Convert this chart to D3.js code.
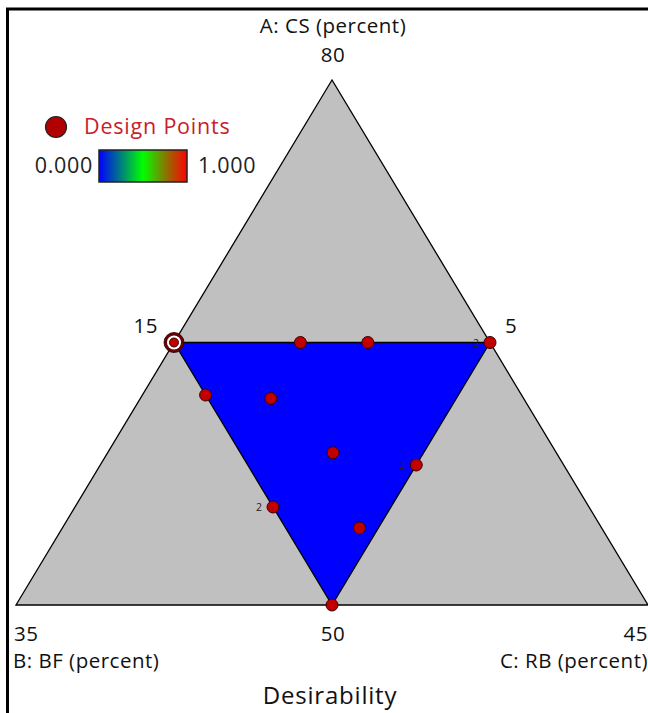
<!DOCTYPE html>
<html>
<head>
<meta charset="utf-8">
<script src="https://cdn.jsdelivr.net/npm/d3@7"></script>
<style>
  body { margin: 0; background: #fff; }
  text { font-family: "Open Sans", "Noto Sans", sans-serif; }
</style>
</head>
<body>
<svg id="chart" width="648" height="713"></svg>
<script>
// component ranges (actual percent)
const compA = { name: "A: CS (percent)", min: 50, max: 80 };
const compB = { name: "B: BF (percent)", min: 5, max: 35 };
const compC = { name: "C: RB (percent)", min: 15, max: 45 };

// constrained design region (A, B, C)
const regionA = [65, 65, 50];
const regionB = [20, 5, 20];
const regionC = [15, 30, 30];

// design points (A, B, C) and replicate count
const pointA = [65, 65, 65, 65, 62, 61.8, 58.7, 58, 55.6, 54.4, 50];
const pointB = [20, 14, 10.8, 5, 20, 17, 15.6, 12, 20, 16.5, 20];
const pointC = [15, 21, 24.2, 30, 18, 21.2, 25.7, 30, 24.4, 29.1, 30];
const pointReps = [1, 1, 1, 2, 1, 1, 1, 2, 2, 1, 1];
const selectedIndex = 0;

// edge labels
const edgeLabels = ["80", "15", "5", "35", "50", "45"];

const svg = d3.select("#chart");

// vertex pixel positions
const vA = [332, 80], vB = [16, 605], vC = [648, 605];

const sa = d3.scaleLinear().domain([compA.min, compA.max]).range([0, 1]);
const sb = d3.scaleLinear().domain([compB.min, compB.max]).range([0, 1]);
const sc = d3.scaleLinear().domain([compC.min, compC.max]).range([0, 1]);

function project(A, B, C) {
    var a = sa(A), b = sb(B), c = sc(C);
    var s = a + b + c;
    a /= s; b /= s; c /= s;
    return [a * vA[0] + b * vB[0] + c * vC[0], a * vA[1] + b * vB[1] + c * vC[1]];
}

// frame
svg.append("rect")
    .attr("x", 7.5).attr("y", 9)
    .attr("width", 680).attr("height", 720)
    .attr("fill", "none")
    .attr("stroke", "#000")
    .attr("stroke-width", 3);

// outer simplex
const outer = [
    project(compA.max, compB.min, compC.min),
    project(compA.min, compB.max, compC.min),
    project(compA.min, compB.min, compC.max)
];
svg.append("path")
    .attr("d", d3.line()(outer) + "Z")
    .attr("fill", "#c0c0c0")
    .attr("stroke", "#000")
    .attr("stroke-width", 1.3);

// region
const region = regionA.map((d, i) => project(d, regionB[i], regionC[i]));
svg.append("path")
    .attr("d", d3.line()(region) + "Z")
    .attr("fill", "#0000ff")
    .attr("stroke", "#000")
    .attr("stroke-width", 1.3);

// design points
const pts = pointA.map((d, i) => ({ p: project(d, pointB[i], pointC[i]), reps: pointReps[i], i: i }));

const sel = pts[selectedIndex].p;
svg.append("circle").attr("cx", sel[0]).attr("cy", sel[1]).attr("r", 10)
    .attr("fill", "#6a0000").attr("stroke", "#200000").attr("stroke-width", 0.8);
svg.append("circle").attr("cx", sel[0]).attr("cy", sel[1]).attr("r", 7)
    .attr("fill", "#ffffff");

svg.append("g")
    .selectAll("circle")
    .data(pts)
    .enter()
    .append("circle")
    .attr("cx", d => d.p[0])
    .attr("cy", d => d.p[1])
    .attr("r", d => d.i === selectedIndex ? 4.5 : 6)
    .attr("fill", "#c00000")
    .attr("stroke", "#3a0000")
    .attr("stroke-width", 1);

svg.append("g")
    .selectAll("text")
    .data(pts.filter(d => d.reps > 1))
    .enter()
    .append("text")
    .attr("x", d => d.p[0] - 11)
    .attr("y", d => d.p[1] + 4)
    .attr("text-anchor", "end")
    .attr("font-size", 10.5)
    .attr("fill", "#222")
    .text(d => d.reps);

// labels
function label(x, y, t, size, anchor, color, ls) {
    svg.append("text")
        .attr("x", x).attr("y", y)
        .attr("text-anchor", anchor || "middle")
        .attr("font-size", size)
        .attr("letter-spacing", ls || 0.5)
        .attr("fill", color || "#111")
        .text(t);
}
label(333, 33, compA.name, 20.5);
label(333, 62, edgeLabels[0], 20.5);
label(158, 333, edgeLabels[1], 20.5, "end");
label(505, 333, edgeLabels[2], 20.5, "start");
label(14, 641, edgeLabels[3], 20.5, "start");
label(333, 641, edgeLabels[4], 20.5);
label(648, 641, edgeLabels[5], 20.5, "end");
label(13, 668, compB.name, 20.5, "start");
label(648, 668, compC.name, 20.5, "end");
label(330, 704, "Desirability", 24, "middle", "#111", 0.8);

// legend
svg.append("circle").attr("cx", 56).attr("cy", 127).attr("r", 10.5)
    .attr("fill", "#b00000").attr("stroke", "#222").attr("stroke-width", 1.2);
label(84, 134, "Design Points", 21.5, "start", "#c8202a", 0.8);

const grad = svg.append("defs").append("linearGradient").attr("id", "cbar");
[["0%", "#0000ff"], ["50%", "#00ff00"], ["80%", "#a06000"], ["100%", "#ff0000"]]
    .forEach(s => grad.append("stop").attr("offset", s[0]).attr("stop-color", s[1]));
svg.append("rect")
    .attr("x", 99).attr("y", 150).attr("width", 88).attr("height", 32)
    .attr("fill", "url(#cbar)")
    .attr("stroke", "#222").attr("stroke-width", 1.5);
label(93, 173, "0.000", 21.5, "end", "#222", 0.7);
label(198, 173, "1.000", 21.5, "start", "#222", 0.7);
</script>
</body>
</html>
